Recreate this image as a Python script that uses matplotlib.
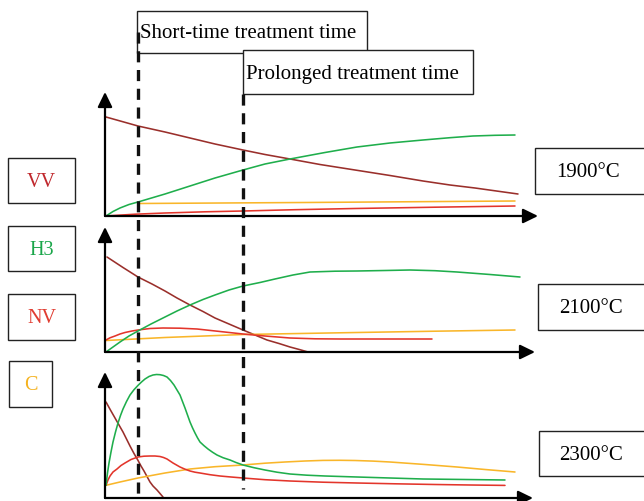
import matplotlib
matplotlib.use("Agg")
import matplotlib.pyplot as plt
import matplotlib.transforms as mtransforms
from matplotlib.patches import Rectangle

plt.rcParams['lines.scale_dashes'] = False
plt.rcParams['font.family'] = ['Liberation Serif', 'DejaVu Serif']

# ---------------- data (time units vs. relative concentration) ----------------
temperatures = ["1900°C", "2100°C", "2300°C"]
species = ["VV", "H3", "NV", "C"]
treatment_times = [33, 138]          # short-time, prolonged
treatment_labels = ["Short-time treatment time", "Prolonged treatment time"]

# panel 1900 °C
p1_vv_t = [1, 33, 60, 85, 110, 138, 160, 185, 215, 250, 285, 318, 345, 370, 395, 413]
p1_vv_y = [99, 90, 84, 78, 72, 66, 61.5, 57, 51.5, 46, 40.5, 35, 31, 28, 24.5, 22]
p1_h3_t = [1, 8, 15, 24, 33, 60, 85, 110, 138, 160, 185, 220, 252, 285, 318, 345, 368, 390, 410]
p1_h3_y = [0, 4.5, 8, 11.5, 14, 22, 30, 38, 46, 52, 57, 63.5, 69, 73, 76, 78.3, 80, 80.7, 81]
p1_c_t = [33, 200, 410]
p1_c_y = [12.5, 13.5, 15]
p1_nv_t = [1, 30, 60, 100, 138, 190, 250, 330, 410]
p1_nv_y = [0, 1.8, 3, 4.2, 5, 6.3, 7.5, 8.8, 10]

# panel 2100 °C
p2_vv_t = [2, 18, 33, 47, 60, 72, 85, 98, 110, 124, 138, 150, 162, 174, 185, 195, 203]
p2_vv_y = [95, 84.5, 75, 68, 61, 54, 47, 40.5, 34, 28, 22, 17, 12, 8.5, 5, 2.3, 0]
p2_h3_t = [1, 8, 15, 24, 33, 46, 60, 72, 85, 98, 110, 124, 138, 155, 170, 188, 205,
           230, 252, 280, 305, 330, 352, 385, 415]
p2_h3_y = [0, 5, 10, 16, 21, 28, 35, 41, 47, 52.5, 57, 62, 66, 69.5, 73, 77, 80,
           80.8, 81, 81.5, 82, 81.3, 80, 77.5, 75]
p2_nv_t = [1, 5, 10, 15, 20, 27, 33, 45, 58, 75, 92, 115, 138, 160, 185, 210, 235, 280, 327]
p2_nv_y = [12, 14.2, 16, 18, 19.5, 21, 22, 23.5, 24, 23.8, 23, 20.5, 18, 16, 14, 13.2, 13, 13, 13]
p2_c_t = [1, 60, 138, 252, 330, 410]
p2_c_y = [11.5, 14.5, 17.5, 19.5, 20.8, 22]

# panel 2300 °C
p3_vv_t = [1, 6, 10, 14, 18, 22, 25, 29, 33, 36, 39, 42, 45, 48, 52, 55, 58]
p3_vv_y = [96, 87, 80, 73, 66, 58, 52, 44.5, 37.6, 32, 27, 21.5, 16, 12, 8, 4.5, 1]
p3_h3_t = [1, 2.5, 4, 6, 8, 10.5, 13, 15.5, 18, 21.5, 25, 29, 33, 36.5, 40, 44, 48,
           51.5, 55, 58.5, 62, 65.5, 69, 72, 75, 77.5, 80, 82.5, 85, 87.5, 90, 92.5, 95,
           99, 103, 107.5, 112, 118, 125, 131, 138, 149, 160, 172, 185, 202, 220,
           236, 252, 285, 318, 360, 400]
p3_h3_y = [12.7, 25, 35, 46, 56, 66, 75, 82.5, 89, 96.5, 103, 108.3, 112.6, 116, 119,
           121.5, 123, 123.5, 123.3, 122.5, 121, 117.5, 113, 108, 103, 96.5, 90, 83,
           76, 70.2, 65, 60.2, 56, 52.3, 49, 45.8, 43, 40.3, 38, 35.5, 33, 30.3, 28,
           25.8, 24, 22.8, 22, 21.5, 21, 20, 19, 18.5, 18]
p3_nv_t = [1, 3, 5, 8, 12, 16, 20, 26, 33, 39, 45, 50, 55, 58.5, 62, 65, 68, 71.5,
           75, 80, 85, 90, 95, 105, 115, 126, 138, 160, 185, 218, 252, 290, 330, 365, 400]
p3_nv_y = [12.7, 18, 22, 26, 29, 32.5, 35, 38.5, 41, 41.8, 42, 42, 41.5, 40.5, 39,
           37, 35, 33, 31, 28.8, 27, 25.8, 25, 23.3, 22, 21, 20, 18.3, 17, 15.8,
           15, 14.2, 13.5, 13, 12.6]
p3_c_t = [1, 15, 33, 60, 85, 110, 138, 160, 180, 200, 218, 235, 250, 268, 285, 320, 352, 380, 410]
p3_c_y = [12.7, 16, 20, 25, 29, 31.3, 33, 34.8, 36, 37, 37.6, 37.7, 37.5, 36.9, 36, 33.5, 31, 28.5, 26]

panels = [
    dict(vv=(p1_vv_t, p1_vv_y), h3=(p1_h3_t, p1_h3_y), nv=(p1_nv_t, p1_nv_y), c=(p1_c_t, p1_c_y)),
    dict(vv=(p2_vv_t, p2_vv_y), h3=(p2_h3_t, p2_h3_y), nv=(p2_nv_t, p2_nv_y), c=(p2_c_t, p2_c_y)),
    dict(vv=(p3_vv_t, p3_vv_y), h3=(p3_h3_t, p3_h3_y), nv=(p3_nv_t, p3_nv_y), c=(p3_c_t, p3_c_y)),
]

# ---------------- styles / layout ----------------
W, H = 644, 502
colors = dict(vv="#9a2f2b", h3="#1fae4c", nv="#e3352b", c="#f9b62a")
label_colors = ["#c0282d", "#1aa64a", "#e03c31", "#f5b21e"]

# panel geometry in pixels: (x-axis y pixel, axis height px, x-arrow length)
panel_geom = [(217, 124, 433), (353, 125, 430), (499, 126, 428)]
left_px, width_px = 105, 433

fig = plt.figure(figsize=(W / 100, H / 100), dpi=100)

axes = []
for (base, hgt, xlen), data in zip(panel_geom, panels):
    ax = fig.add_axes([left_px / W, (H - base) / H, width_px / W, hgt / H])
    ax.set_xlim(0, width_px)
    ax.set_ylim(0, hgt)
    ax.axis('off')
    for key in ["vv", "c", "nv", "h3"]:
        t, y = data[key]
        ax.plot(t, y, color=colors[key], lw=1.15, clip_on=False,
                solid_capstyle='round', solid_joinstyle='round')
    arrow = dict(arrowstyle='-|>,head_length=0.45,head_width=0.22', lw=1.6,
                 color='black', mutation_scale=20, shrinkA=0, shrinkB=0)
    ax.annotate('', xy=(xlen, 0), xytext=(0, 0), arrowprops=arrow, annotation_clip=False)
    ax.annotate('', xy=(0, hgt), xytext=(0, 0), arrowprops=arrow, annotation_clip=False)
    axes.append(ax)

# overlay in pixel units for boxes and labels
ov = fig.add_axes([0, 0, 1, 1], zorder=10)
ov.set_xlim(0, W)
ov.set_ylim(H, 0)
ov.axis('off')
ov.patch.set_alpha(0)

# dashed treatment-time lines (x in panel time units, y in pixels)
blend = mtransforms.blended_transform_factory(axes[0].transData, ov.transData)
dash_spans = [(33, 502), (95, 490)]
for tt, (y0, y1) in zip(treatment_times, dash_spans):
    ov.plot([tt, tt], [y0, y1], transform=blend, color='#111111', lw=2.4,
            dashes=(8, 5.5), clip_on=False)

fs = 15
box_kw = dict(facecolor='white', edgecolor='#222222', lw=1.0)

# treatment boxes
top_boxes = [(137, 12, 230, 42, 140, 33), (243, 51, 230, 44, 246, 74)]
for (x, y, w, h, tx, ty), lab in zip(top_boxes, treatment_labels):
    ov.add_patch(Rectangle((x, y), w, h, **box_kw))
    ov.text(tx, ty, lab, fontsize=fs, ha='left', va='center', color='black')

# species boxes
sp_boxes = [(8, 159, 67, 45), (8, 227, 67, 45), (8, 295, 67, 46), (9, 362, 43, 46)]
for (x, y, w, h), lab, col in zip(sp_boxes, species, label_colors):
    ov.add_patch(Rectangle((x, y), w, h, **box_kw))
    ov.text(x + w / 2, y + h / 2 + 1, lab, fontsize=14.5, ha='center', va='center', color=col)

# temperature boxes
t_boxes = [(535, 149, 112, 46, 588), (538, 285, 110, 46, 591), (539, 432, 110, 45, 591)]
for (x, y, w, h, tx), lab in zip(t_boxes, temperatures):
    ov.add_patch(Rectangle((x, y), w, h, clip_on=True, **box_kw))
    ov.text(tx, y + h / 2 + 1, lab, fontsize=fs, ha='center', va='center', color='black')

fig.savefig("out.png", dpi=100)
